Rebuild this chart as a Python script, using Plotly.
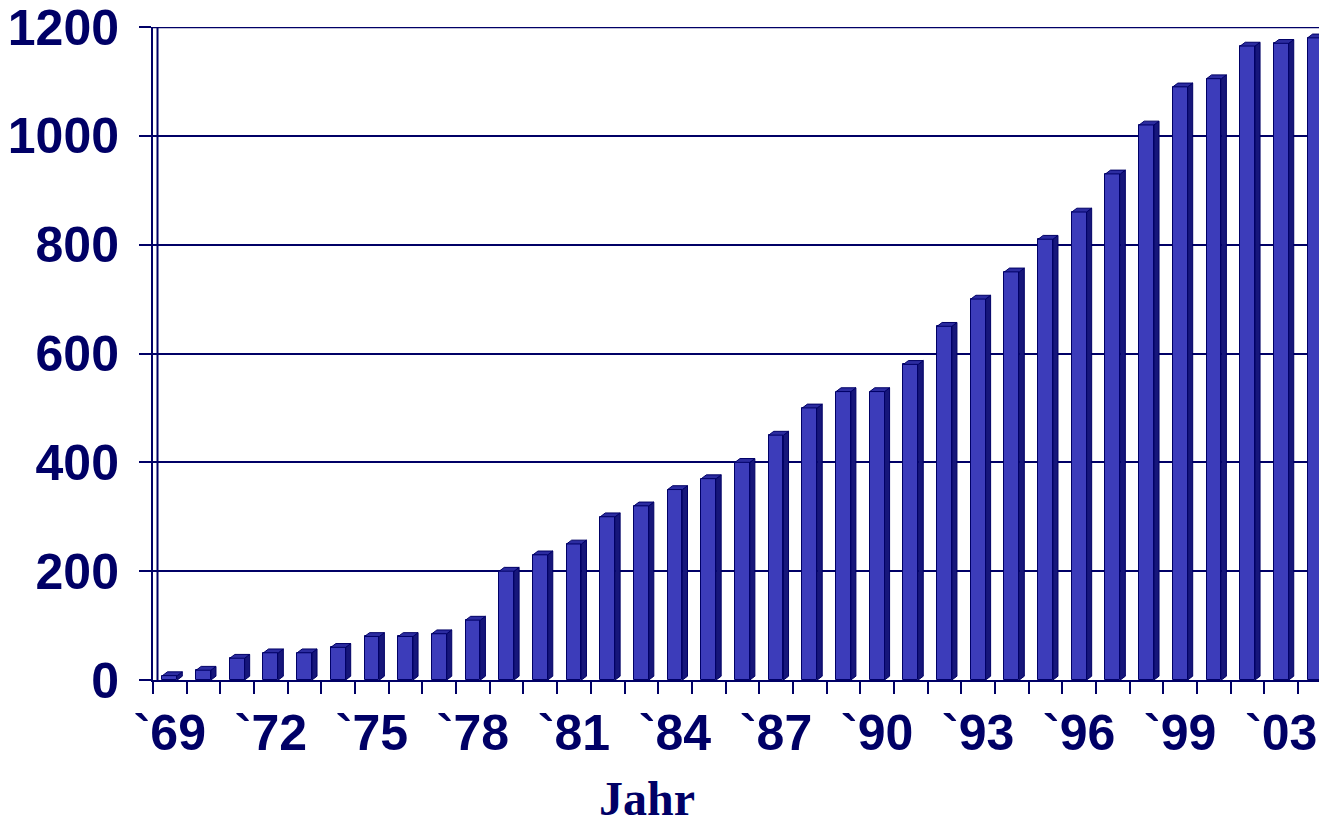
import plotly.graph_objects as go

years = list(range(1969, 2004))
values = [8, 18, 40, 50, 50, 60, 80, 80, 85, 110,
          200, 230, 250, 300, 320, 350, 370, 400, 450, 500,
          530, 530, 580, 650, 700, 750, 810, 860, 930, 1020,
          1090, 1105, 1165, 1170, 1180]
tick_years = years[::3]
tick_labels = ["`69", "`72", "`75", "`78", "`81", "`84", "`87", "`90",
               "`93", "`96", "`99", "`03"]
y_ticks = [0, 200, 400, 600, 800, 1000, 1200]

NAVY = "#000066"
FRONT = "#3C3CBA"
SIDE = "#16167A"
TOP = "#2C2CA0"

W = 0.44     # bar width (category units)
DX = 0.15    # depth offset x
DY = 7       # depth offset y

# page body has an 8px margin; compensate
PAD = 8
FIG_W, FIG_H = 1327 - PAD, 822 - PAD
ML, MT, MB = 153 - PAD, 27 - PAD, 142
PLOT_W = FIG_W - ML
SLOT = 33.68

fig = go.Figure()
fig.add_trace(go.Bar(x=years, y=values, width=W, marker=dict(color=FRONT, line=dict(color=NAVY, width=1)),
                     hoverinfo="skip", showlegend=False))

sx, sy, tx, ty = [], [], [], []
for x, v in zip(years, values):
    r = x + W / 2
    l = x - W / 2
    sx += [r, r + DX, r + DX, r, r, None]
    sy += [0, DY, v + DY, v, 0, None]
    tx += [l, l + DX, r + DX, r, l, None]
    ty += [v, v + DY, v + DY, v, v, None]

fig.add_trace(go.Scatter(x=sx, y=sy, mode="lines", fill="toself", fillcolor=SIDE,
                         line=dict(color=NAVY, width=1), hoverinfo="skip", showlegend=False))
fig.add_trace(go.Scatter(x=tx, y=ty, mode="lines", fill="toself", fillcolor=TOP,
                         line=dict(color=NAVY, width=1), hoverinfo="skip", showlegend=False))

x0 = years[0] - 0.5
fig.update_layout(
    width=FIG_W, height=FIG_H,
    margin=dict(l=ML, r=0, t=MT, b=MB, autoexpand=False),
    plot_bgcolor="white", paper_bgcolor="white",
    bargap=0,
    xaxis=dict(
        range=[x0, x0 + PLOT_W / SLOT],
        tickmode="array", tickvals=tick_years, ticktext=tick_labels,
        ticks="", showgrid=False, zeroline=False,
        showline=True, linecolor=NAVY, linewidth=2,
        tickfont=dict(family="Liberation Sans", size=50, color=NAVY, weight="bold"),
        ticklabelstandoff=8, ticklabeloverflow="allow",
        minor=dict(tickmode="array", tickvals=[y - 0.5 for y in years] + [years[-1] + 0.5],
                   ticks="outside", ticklen=12, tickwidth=2, tickcolor=NAVY, showgrid=False),
    ),
    yaxis=dict(
        range=[0, 1200], tickmode="array", tickvals=y_ticks,
        ticks="outside", ticklen=12, tickwidth=2, tickcolor=NAVY,
        showgrid=True, gridcolor=NAVY, gridwidth=1.5, zeroline=False,
        showline=True, linecolor=NAVY, linewidth=2,
        tickfont=dict(family="Liberation Sans", size=50, color=NAVY, weight="bold"),
        ticklabelstandoff=10, ticklabeloverflow="allow",
    ),
    shapes=[
        dict(type="line", xref="x", yref="y", x0=x0 + 4.5 / SLOT, x1=x0 + 4.5 / SLOT,
             y0=0, y1=1200, line=dict(color=NAVY, width=2)),
        dict(type="line", xref="paper", yref="y", x0=0, x1=1, y0=1200, y1=1200,
             line=dict(color=NAVY, width=2.5)),
    ],
    annotations=[
        dict(text="Jahr", xref="paper", yref="paper", x=(647 - 153) / PLOT_W, y=(680 - 798) / 653,
             xanchor="center", yanchor="middle", showarrow=False,
             font=dict(family="Liberation Serif", size=48, color=NAVY, weight="bold")),
    ],
)

fig.write_html("out.html")
